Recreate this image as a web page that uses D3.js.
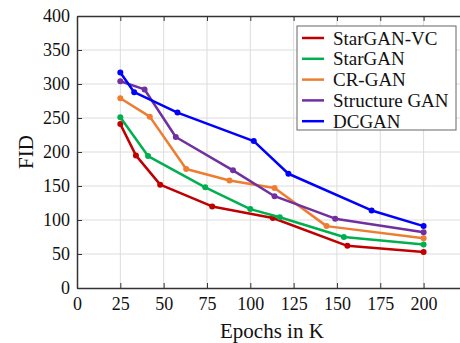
<!DOCTYPE html>
<html>
<head>
<meta charset="utf-8">
<script src="https://cdn.jsdelivr.net/npm/d3@7"></script>
<style>
  body { margin: 0; background: #fff; }
  text { font-family: "Liberation Serif", "Times New Roman", "DejaVu Serif", serif; }
</style>
</head>
<body>
<script>
// DATA
const seriesNames = ["StarGAN-VC", "StarGAN", "CR-GAN", "Structure GAN", "DCGAN"]
const seriesColors = ["#c00000", "#00b050", "#ed7d31", "#7030a0", "#0000ff"]

const starganvc = [[25,241],[34,195],[48,152],[78,120],[113,103],[156,62],[200,53]]
const stargan = [[25,251],[41,194],[74,148],[100,116],[117,104],[154,75],[200,64]]
const crgan = [[25,279],[42,252],[63,175],[88,158],[114,147],[144,91],[200,73]]
const structgan = [[25,304],[39,292],[57,222],[90,173],[114,135],[149,102],[200,82]]
const dcgan = [[25,317],[33,288],[58,258],[102,216],[122,168],[170,114],[200,91]]

const xTicks = [0, 25, 50, 75, 100, 125, 150, 175, 200]
const yTicks = [0, 50, 100, 150, 200, 250, 300, 350, 400]

const allSeries = [starganvc, stargan, crgan, structgan, dcgan]

// SIZES
const width = 460, height = 343
const margin = {top: 16, left: 77, bottom: 55}
const serif = "'Liberation Serif', 'Times New Roman', 'DejaVu Serif', serif"

const svg = d3.select("body").append("svg")
  .attr("width", width).attr("height", height)

const X = d3.scaleLinear().domain([0, 225]).range([margin.left, margin.left + 225 * 1.733])
const Y = d3.scaleLinear().domain([0, 400]).range([height - margin.bottom, margin.top])

const x0 = X(0), x1 = X(225), y0 = Y(0), y1 = Y(400)

// GRID
const grid = svg.append("g")
grid.selectAll(".gx").data(xTicks.slice(1)).enter().append("line")
  .attr("x1", d => X(d)).attr("x2", d => X(d))
  .attr("y1", y0).attr("y2", y1)
  .attr("stroke", "#dcdcdc").attr("stroke-width", 1)
grid.selectAll(".gy").data(yTicks.slice(1, -1)).enter().append("line")
  .attr("x1", x0).attr("x2", x1)
  .attr("y1", d => Y(d)).attr("y2", d => Y(d))
  .attr("stroke", "#dcdcdc").attr("stroke-width", 1)

// AXES (ticks inward)
function styleAxis(g) {
  g.attr("font-family", serif).attr("font-size", 18)
  g.select(".domain").attr("stroke", "#333").attr("stroke-width", 1.5)
  g.selectAll(".tick line").attr("stroke", "#333")
  g.selectAll(".tick text").attr("fill", "#111")
}

svg.append("g").attr("transform", `translate(0,${y0})`)
  .call(d3.axisBottom(X).tickValues(xTicks).tickSizeInner(-5).tickSizeOuter(0).tickPadding(9))
  .call(styleAxis)

svg.append("g").attr("transform", `translate(0,${y1})`)
  .call(d3.axisTop(X).tickValues(xTicks).tickSizeInner(-5).tickSizeOuter(0).tickFormat(""))
  .call(styleAxis)

svg.append("g").attr("transform", `translate(${x0},0)`)
  .call(d3.axisLeft(Y).tickValues(yTicks).tickSizeInner(-5).tickSizeOuter(0).tickPadding(7))
  .call(styleAxis)

// LINES
const line = d3.line().x(d => X(d[0])).y(d => Y(d[1]))
allSeries.forEach((s, i) => {
  const g = svg.append("g")
  g.append("path").datum(s)
    .attr("d", line)
    .attr("fill", "none")
    .attr("stroke", seriesColors[i])
    .attr("stroke-width", 2.5)
    .attr("stroke-linejoin", "round")
  g.selectAll("circle").data(s).enter().append("circle")
    .attr("cx", d => X(d[0])).attr("cy", d => Y(d[1]))
    .attr("r", 3)
    .attr("fill", seriesColors[i])
})

// LEGEND
const legend = svg.append("g").attr("transform", "translate(297,26)")
legend.append("rect")
  .attr("width", 159).attr("height", 104)
  .attr("fill", "#fff").attr("stroke", "#666").attr("stroke-width", 1)
seriesNames.forEach((name, i) => {
  const yy = 12 + i * 20.8
  legend.append("line")
    .attr("x1", 5).attr("x2", 27).attr("y1", yy).attr("y2", yy)
    .attr("stroke", seriesColors[i]).attr("stroke-width", 2.5)
  legend.append("text")
    .attr("x", 36).attr("y", yy).attr("dy", "0.35em")
    .attr("font-family", serif).attr("font-size", 19).attr("fill", "#111")
    .text(name)
})

// AXIS TITLES
svg.append("text")
  .attr("x", (x0 + x1) / 2).attr("y", 338)
  .attr("text-anchor", "middle")
  .attr("font-family", serif).attr("font-size", 21).attr("fill", "#111")
  .text("Epochs in K")

svg.append("text")
  .attr("transform", `translate(33,${(y0 + y1) / 2}) rotate(-90)`)
  .attr("text-anchor", "middle")
  .attr("font-family", serif).attr("font-size", 21).attr("fill", "#111")
  .text("FID")
</script>
</body>
</html>
